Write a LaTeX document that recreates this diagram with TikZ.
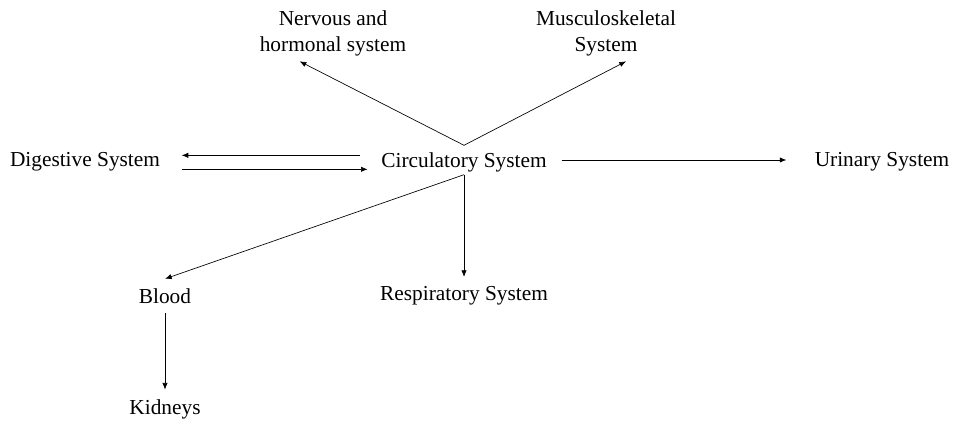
\documentclass[tikz,border=0pt]{standalone}
\usepackage{fontspec}
\setmainfont{Liberation Serif}
\usepackage{tikz}
\usetikzlibrary{positioning,arrows.meta,calc}

\begin{document}
\begin{tikzpicture}[x=0.75pt,y=-0.75pt,>={Latex[length=5pt,width=4pt]},
  every node/.style={font=\fontsize{16}{19.5}\selectfont,inner sep=1pt},
  every path/.style={line width=0.5pt}]

  \useasboundingbox (0,0) rectangle (957,423);

  \node[] (circ) at (464,162) {Circulatory System};
  \node[] (nerv) [align=center] at (333,33) {Nervous and\\hormonal system};
  \node[] (musc) [align=center] at (606,33) {Musculoskeletal\\System};
  \node[] (dig) at (85,162) {Digestive System};
  \node[] (uri) at (882,162) {Urinary System};
  \node[] (blood) at (165,296) {Blood};
  \node[] (resp) at (464,296) {Respiratory System};
  \node[] (kid) at (165,409) {Kidneys};

  \path[->] ([yshift=4pt]circ.north) edge ([xshift=-25pt,yshift=-3pt]nerv.south);
  \path[->] ([yshift=4pt]circ.north) edge ([xshift=15pt,yshift=-3pt]musc.south);
  \path[->] ([xshift=-15pt,yshift=5pt]circ.west) edge ([xshift=15pt,yshift=5pt]dig.east);
  \path[->] ([xshift=15pt,yshift=-5.5pt]dig.east) edge ([xshift=-9pt,yshift=-5.5pt]circ.west);
  \path[->] ([xshift=10pt,yshift=1.5pt]circ.east) edge ([xshift=-20pt,yshift=1.5pt]uri.west);
  \path[->] ([yshift=-1pt]circ.south) edge ([yshift=6pt]blood.north);
  \path[->] ([yshift=-1pt]circ.south) edge ([yshift=6pt]resp.north);
  \path[->] ([yshift=-6pt]blood.south) edge ([yshift=6pt]kid.north);

\end{tikzpicture}
\end{document}
